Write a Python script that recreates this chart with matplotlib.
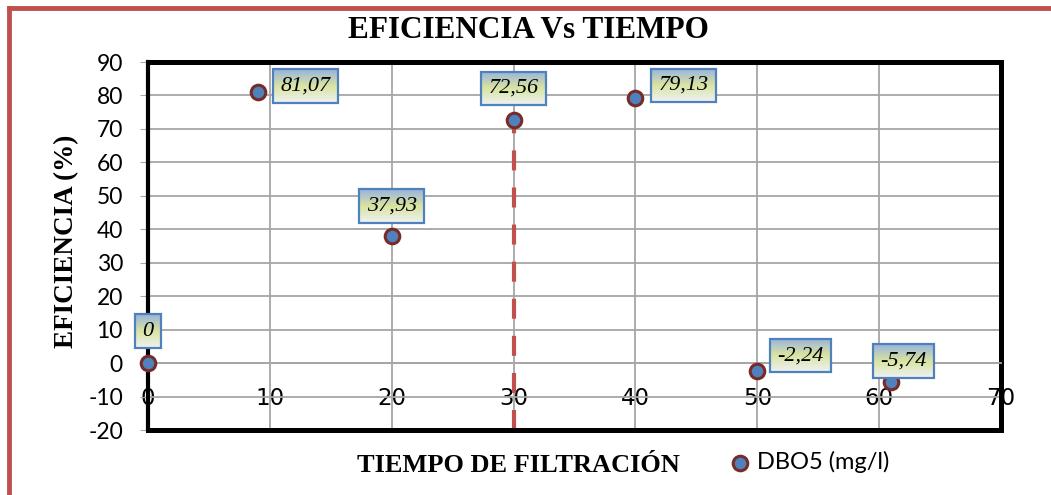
import matplotlib.pyplot as plt
import numpy as np
from matplotlib.colors import LinearSegmentedColormap
from matplotlib.lines import Line2D

plt.rcParams['axes.unicode_minus'] = False

# tiempo de filtración y eficiencia de remoción de DBO5
tiempo = [0, 9, 20, 30, 40, 50, 61]
eficiencia = [0, 81.07, 37.93, 72.56, 79.13, -2.24, -5.74]
etiquetas = ['0', '81,07', '37,93', '72,56', '79,13', '-2,24', '-5,74']
# desplazamiento de cada etiqueta respecto a su punto (pixeles)
desplazamientos = [(0, 32), (48, 6), (0, 30), (0, 32), (48, 13), (43, 15), (12, 21)]
t_corte = 30

serif = ['Liberation Serif', 'DejaVu Serif']
sans = ['Lato', 'DejaVu Sans']

fig = plt.figure(figsize=(10.51, 4.95), dpi=100)
ax = fig.add_axes([0.1408, 0.1313, 0.8116, 0.7434])
ax.set_xlim(0, 70)
ax.set_ylim(-20, 90)

# marco rojo del documento
fig.add_artist(Line2D([0.009, 0.009], [0, 0.983], transform=fig.transFigure, color='#c0504d', lw=3.5))
fig.add_artist(Line2D([0.009, 1], [0.983, 0.983], transform=fig.transFigure, color='#c0504d', lw=3.5))

ax.set_axisbelow(True)
ax.grid(True, color='#a6a6a6', lw=1.3)
ax.set_xticks(range(0, 71, 10))
ax.set_yticks(range(-20, 91, 10))
ax.tick_params(axis='y', direction='out', length=6, color='#a6a6a6', pad=12, labelsize=16.5)
ax.tick_params(axis='x', length=0, pad=17, labelsize=16.5)
for lab in ax.get_xticklabels() + ax.get_yticklabels():
    lab.set_family(sans)

ax.spines['bottom'].set_position(('data', 0))
ax.spines['bottom'].set_color('#a6a6a6')
ax.spines['bottom'].set_linewidth(1.3)
ax.spines['left'].set_linewidth(3)
for s in ['top', 'right']:
    ax.spines[s].set_linewidth(3.6)
ax.axhline(ax.get_ylim()[0], color='black', lw=3.6, clip_on=False, zorder=6)

# línea de corte en t = 30
idx = tiempo.index(t_corte)
ax.plot([t_corte, t_corte], [ax.get_ylim()[0], eficiencia[idx]], color='#c0504d', lw=3,
        dashes=(4.8, 4.1), zorder=2, clip_on=False)

ax.scatter(tiempo, eficiencia, s=110, c='#4f81bd', edgecolors='#772c2a', linewidths=2.2,
           zorder=3, clip_on=False, label='DBO5 (mg/l)')

anots = []
for x, y, txt, (dx, dy) in zip(tiempo, eficiencia, etiquetas, desplazamientos):
    a = ax.annotate(txt, (x, y), xytext=(dx, dy), textcoords='offset pixels',
                    ha='center', va='center', fontsize=16, style='italic', family=serif,
                    bbox=dict(boxstyle='square,pad=0.33', fc='none', ec='#4f81bd', lw=1.6),
                    zorder=5, annotation_clip=False)
    anots.append(a)

# relleno degradado de las cajas de etiquetas
degradado = LinearSegmentedColormap.from_list('caja', ['#97b3df', '#d9e4a0', '#eef1f4'])
fig.canvas.draw()
r = fig.canvas.get_renderer()
inv = ax.transData.inverted()
for a in anots:
    ext = a.get_bbox_patch().get_window_extent(r)
    (x0, y0), (x1, y1) = inv.transform([[ext.x0, ext.y0], [ext.x1, ext.y1]])
    ax.imshow(np.linspace(0, 1, 64).reshape(-1, 1), cmap=degradado, extent=(x0, x1, y0, y1),
              aspect='auto', zorder=4, clip_on=False)
ax.set_xlim(0, 70)
ax.set_ylim(-20, 90)
ax.set_aspect('auto')

fig.text(528 / 1051, 1 - 31 / 495, 'EFICIENCIA Vs TIEMPO', ha='center', va='center',
         family=serif, weight='bold', fontsize=22.5)
fig.text(518 / 1051, 1 - 466 / 495, 'TIEMPO DE FILTRACIÓN', ha='center', va='center',
         family=serif, weight='bold', fontsize=19)
fig.text(67 / 1051, 1 - 241 / 495, 'EFICIENCIA (%)', ha='center', va='center', rotation=90,
         family=serif, weight='bold', fontsize=19.5)

fig.legend(loc='center left', bbox_to_anchor=(705 / 1051, 1 - 462 / 495), frameon=False,
           handletextpad=0.1, handlelength=1.2, prop={'family': sans, 'size': 17})

fig.savefig('out.png', dpi=100)
